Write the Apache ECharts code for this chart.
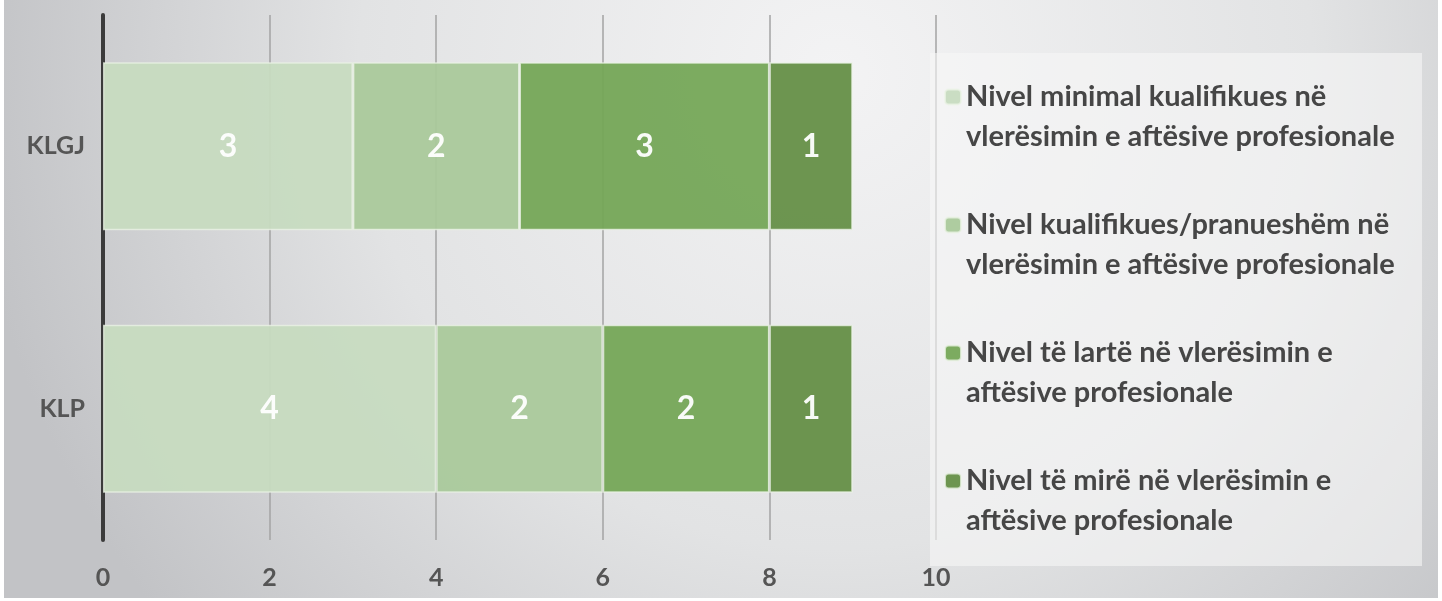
<!DOCTYPE html>
<html>
<head>
<meta charset="utf-8">
<script src="https://cdn.jsdelivr.net/npm/echarts@6/dist/echarts.min.js"></script>
<style>
html,body{margin:0;padding:0;background:#ffffff;}
#c{position:absolute;left:4px;top:0;width:1434px;height:598px;}
</style>
</head>
<body>
<div id="c"></div>
<script>
const categories = ['KLGJ', 'KLP'];
const seriesNames = [
  'Nivel minimal kualifikues në vlerësimin e aftësive profesionale',
  'Nivel kualifikues/pranueshëm në vlerësimin e aftësive profesionale',
  'Nivel të lartë në vlerësimin e aftësive profesionale',
  'Nivel të mirë në vlerësimin e aftësive profesionale'
];
// number of words on the first legend line of each series
const legendBreakAfter = [4, 3, 6, 6];
const minimal = [3, 4];
const pranueshem = [2, 2];
const larte = [3, 2];
const mire = [1, 1];
const xTicks = [0, 2, 4, 6, 8, 10];
const colors = ['#c7dbc0', '#aac99b', '#75a657', '#658f47'];

const valuesList = [minimal, pranueshem, larte, mire];
const chart = echarts.init(document.getElementById('c'));
const font = 'Lato';

function legendLabel(name) {
  const i = seriesNames.indexOf(name);
  const words = name.split(' ');
  const n = legendBreakAfter[i];
  return '\n' + words.slice(0, n).join(' ') + '\n' + words.slice(n).join(' ');
}

chart.setOption({
  backgroundColor: {
    type: 'radial', x: 0.58, y: 0.12, r: 1.45,
    colorStops: [
      {offset: 0, color: '#f3f3f4'},
      {offset: 0.55, color: '#e2e3e4'},
      {offset: 1, color: '#c2c3c6'}
    ]
  },
  animation: false,
  color: colors,
  grid: {left: 99, right: 502, top: 15, bottom: 58},
  graphic: [{
    type: 'rect', z: 1,
    shape: {x: 926, y: 53, width: 492, height: 513},
    style: {fill: 'rgba(246,246,247,0.6)'}
  }],
  legend: {
    orient: 'vertical',
    left: 940, top: 37,
    padding: 0,
    itemGap: 8,
    itemWidth: 16, itemHeight: 15,
    z: 5,
    data: seriesNames,
    formatter: legendLabel,
    textStyle: {
      fontFamily: font, fontWeight: 'bold', fontSize: 29, color: '#464646',
      lineHeight: 40
    }
  },
  xAxis: {
    type: 'value', min: xTicks[0], max: xTicks[xTicks.length - 1], interval: 2,
    axisLine: {show: false}, axisTick: {show: false},
    splitLine: {lineStyle: {color: '#a3a3a3', width: 1.5}},
    axisLabel: {fontFamily: font, fontWeight: 'bold', fontSize: 25, color: '#555555', margin: 25}
  },
  yAxis: {
    type: 'category', data: categories, inverse: true,
    axisLine: {lineStyle: {color: '#3b3b3b', width: 4}},
    axisTick: {show: false},
    axisLabel: {fontFamily: font, fontWeight: 'bold', fontSize: 25, color: '#555555', margin: 18}
  },
  series: seriesNames.map((name, i) => ({
    name: name, type: 'bar', stack: 'total', barWidth: '64%',
    data: valuesList[i],
    itemStyle: {color: colors[i], borderColor: 'rgba(235,243,230,0.8)', borderWidth: 1.5, opacity: 0.95},
    label: {show: true, position: 'inside', color: '#ffffff', fontFamily: font, fontWeight: 'bold', fontSize: 32}
  }))
});
</script>
</body>
</html>
